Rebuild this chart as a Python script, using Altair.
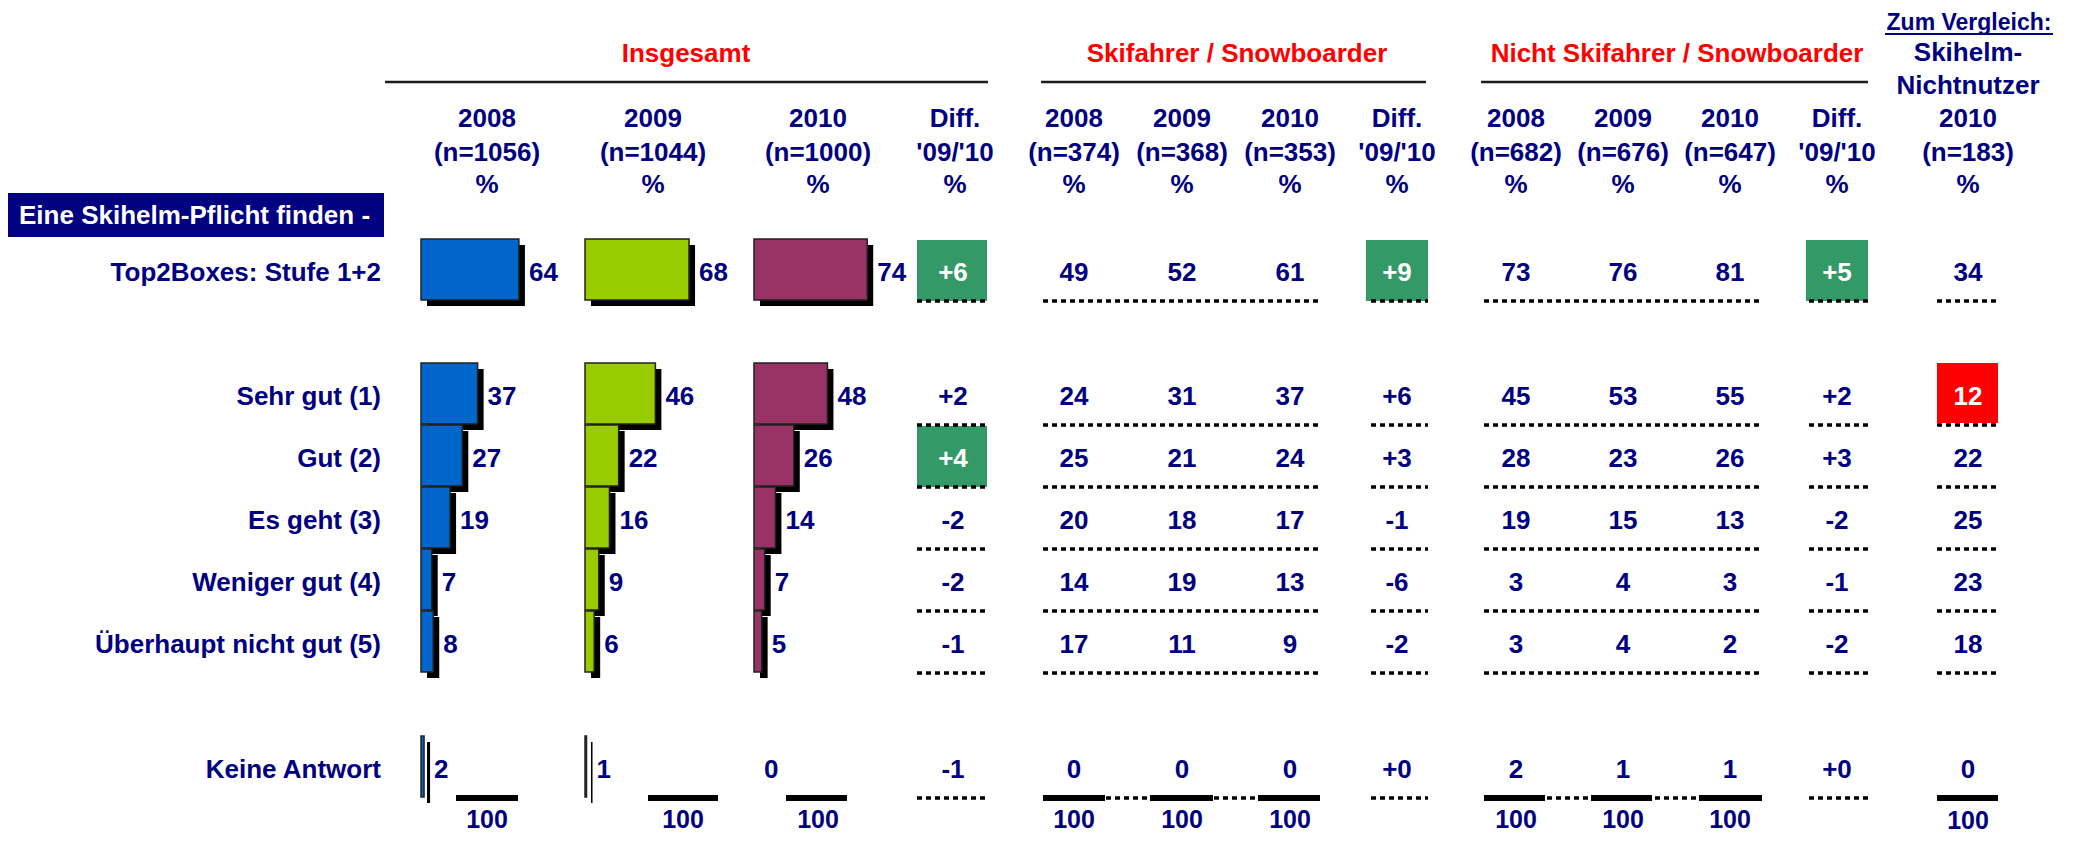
import altair as alt
import pandas as pd

# ------------------------------------------------------------------ data
rows = ["Top2Boxes: Stufe 1+2", "Sehr gut (1)", "Gut (2)", "Es geht (3)",
        "Weniger gut (4)", "Überhaupt nicht gut (5)", "Keine Antwort"]
section_label = "Eine Skihelm-Pflicht finden -"

group_titles = ["Insgesamt", "Skifahrer / Snowboarder", "Nicht Skifahrer / Snowboarder"]
years = ["2008", "2009", "2010"]
n_total = [1056, 1044, 1000]
n_ski = [374, 368, 353]
n_nonski = [682, 676, 647]
n_nonuser = 183

total_2008 = [64, 37, 27, 19, 7, 8, 2]
total_2009 = [68, 46, 22, 16, 9, 6, 1]
total_2010 = [74, 48, 26, 14, 7, 5, 0]
total_diff = [6, 2, 4, -2, -2, -1, -1]
total_diff_sig = [True, False, True, False, False, False, False]

ski_2008 = [49, 24, 25, 20, 14, 17, 0]
ski_2009 = [52, 31, 21, 18, 19, 11, 0]
ski_2010 = [61, 37, 24, 17, 13, 9, 0]
ski_diff = [9, 6, 3, -1, -6, -2, 0]
ski_diff_sig = [True, False, False, False, False, False, False]

nonski_2008 = [73, 45, 28, 19, 3, 3, 2]
nonski_2009 = [76, 53, 23, 15, 4, 4, 1]
nonski_2010 = [81, 55, 26, 13, 3, 2, 1]
nonski_diff = [5, 2, 3, -2, -1, -2, 0]
nonski_diff_sig = [True, False, False, False, False, False, False]

nonuser_2010 = [34, 12, 22, 25, 23, 18, 0]
nonuser_low = [False, True, False, False, False, False, False]

column_total = 100

# ------------------------------------------------------------------ layout (pixels of the page)
W, H = 2062, 826
FONT = "Liberation Sans"
NAVY = "#000080"
RED = "#FF0000"
GREEN_BOX = "#339966"
BAR_COLORS = ["#0066CC", "#99CC00", "#993366"]
TEXT_DY = 3

ROW_Y = [270, 394, 456, 518, 580, 642, 767]
BAR_X0 = [421, 585, 754]
BAR_LEN_100 = 153
TOT_HEAD_X = [487, 653, 818]
TOT_DIFF_X = 953
SKI_X = [1074, 1182, 1290]
SKI_DIFF_X = 1397
NON_X = [1516, 1623, 1730]
NON_DIFF_X = 1837
NU_X = 1968

X = alt.Scale(domain=[8, 8 + W], nice=False, zero=False)
Y = alt.Scale(domain=[8, 8 + H], reverse=True, nice=False, zero=False)


def fmt_diff(v):
    return ("+" if v >= 0 else "-") + str(abs(v))


def text_layer(df, color, align="center", size=26, dy=TEXT_DY):
    return alt.Chart(df).mark_text(
        font=FONT, fontWeight="bold", fontSize=size, color=color,
        align=align, baseline="middle", dy=dy
    ).encode(
        x=alt.X("x:Q", scale=X, axis=None),
        y=alt.Y("y:Q", scale=Y, axis=None),
        text="t:N",
    )


def rule_layer(df, color="black", width=3.5, dash=None):
    kw = dict(color=color, strokeWidth=width)
    if dash:
        kw["strokeDash"] = dash
    return alt.Chart(df).mark_rule(**kw).encode(
        x=alt.X("x:Q", scale=X, axis=None),
        x2="x2:Q",
        y=alt.Y("y:Q", scale=Y, axis=None),
    )


def rect_layer(df, color):
    return alt.Chart(df).mark_rect(color=color).encode(
        x=alt.X("x:Q", scale=X, axis=None), x2="x2:Q",
        y=alt.Y("y:Q", scale=Y, axis=None), y2="y2:Q",
    )


layers = []

# ---- header texts
red_t, navy_t = [], []
for title, cx in zip(group_titles, [686, 1237, 1677]):
    red_t.append({"x": cx, "y": 50, "t": title})
for xs, ns in [(TOT_HEAD_X, n_total), (SKI_X, n_ski), (NON_X, n_nonski)]:
    for cx, yr, n in zip(xs, years, ns):
        navy_t += [{"x": cx, "y": 116, "t": yr},
                   {"x": cx, "y": 150, "t": f"(n={n})"},
                   {"x": cx, "y": 182, "t": "%"}]
for cx in [955, SKI_DIFF_X, NON_DIFF_X]:
    navy_t += [{"x": cx, "y": 116, "t": "Diff."},
               {"x": cx, "y": 150, "t": "'09/'10"},
               {"x": cx, "y": 182, "t": "%"}]
navy_t += [{"x": NU_X, "y": 50, "t": "Skihelm-"},
           {"x": NU_X, "y": 83, "t": "Nichtnutzer"},
           {"x": NU_X, "y": 116, "t": "2010"},
           {"x": NU_X, "y": 150, "t": f"(n={n_nonuser})"},
           {"x": NU_X, "y": 182, "t": "%"}]

# group underline rules
layers.append(rule_layer(pd.DataFrame({"x": [385, 1041, 1481], "x2": [988, 1426, 1868],
                                       "y": [82, 82, 82]}), color="#1a1a1a", width=2.5))
# Zum Vergleich underline
layers.append(rule_layer(pd.DataFrame({"x": [1885], "x2": [2053], "y": [34]}), color=NAVY, width=2))

# section box
layers.append(rect_layer(pd.DataFrame({"x": [6], "x2": [384], "y": [193], "y2": [237]}), NAVY))

# ---- highlight boxes
green_boxes, red_boxes = [], []
for i, yc in enumerate(ROW_Y):
    if total_diff_sig[i]:
        green_boxes.append({"x": 917, "x2": 987, "y": yc - 30, "y2": yc + 31})
    if ski_diff_sig[i]:
        green_boxes.append({"x": 1366, "x2": 1428, "y": yc - 30, "y2": yc + 31})
    if nonski_diff_sig[i]:
        green_boxes.append({"x": 1806, "x2": 1868, "y": yc - 30, "y2": yc + 31})
    if nonuser_low[i]:
        red_boxes.append({"x": 1937, "x2": 1998, "y": yc - 31, "y2": yc + 29})
layers.append(rect_layer(pd.DataFrame(green_boxes), GREEN_BOX))
layers.append(rect_layer(pd.DataFrame(red_boxes), RED))

# ---- dotted separators
dots = []
spans = [(917, 987), (1043, 1321), (1371, 1428), (1484, 1762), (1809, 1868), (1937, 1998)]
for yc in ROW_Y:
    for a, b in spans:
        dots.append({"x": a, "x2": b, "y": yc + 31})
layers.append(rule_layer(pd.DataFrame(dots), width=3.5, dash=[5, 4]))

# thick total rules
thick = [(456, 518), (648, 718), (786, 847),
         (1043, 1105), (1150, 1213), (1258, 1320),
         (1484, 1545), (1591, 1652), (1699, 1762), (1937, 1998)]
layers.append(rule_layer(pd.DataFrame([{"x": a, "x2": b, "y": ROW_Y[-1] + 31} for a, b in thick]),
                         width=6))

# ---- cell values
white_t = []
for i, yc in enumerate(ROW_Y):
    for vals, xs in [((ski_2008, ski_2009, ski_2010), SKI_X), ((nonski_2008, nonski_2009, nonski_2010), NON_X)]:
        for v, cx in zip(vals, xs):
            navy_t.append({"x": cx, "y": yc, "t": str(v[i])})
    for d, sig, cx in [(total_diff, total_diff_sig, TOT_DIFF_X), (ski_diff, ski_diff_sig, SKI_DIFF_X),
                       (nonski_diff, nonski_diff_sig, NON_DIFF_X)]:
        (white_t if sig[i] else navy_t).append({"x": cx, "y": yc, "t": fmt_diff(d[i])})
    (white_t if nonuser_low[i] else navy_t).append({"x": NU_X, "y": yc, "t": str(nonuser_2010[i])})

# totals 100 (kept inside the drawing area)
totals_t = [{"x": cx, "y": 820, "t": str(column_total)} for cx in [487, 683, 818] + SKI_X + NON_X]
totals_t.append({"x": NU_X, "y": 821, "t": str(column_total)})

# ---- bars (each year column has its own value scale 0..100)
for vals, x0, col in zip([total_2008, total_2009, total_2010], BAR_X0, BAR_COLORS):
    df = pd.DataFrame({"v": vals, "yc": ROW_Y, "z": 0})
    df["y0"] = df["yc"] - 31
    df["y1"] = df["yc"] + 30
    xs = alt.Scale(domain=[0, 100], range=[x0 - 8, x0 - 8 + BAR_LEN_100], nice=False, zero=False)
    base = alt.Chart(df)
    enc = dict(x=alt.X("z:Q", scale=xs, axis=None), x2="v:Q",
               y=alt.Y("y0:Q", scale=Y, axis=None), y2="y1:Q")
    pos = base.transform_filter("datum.v > 0")
    layers.append(pos.mark_bar(color="black", xOffset=6, x2Offset=6, yOffset=6, y2Offset=6).encode(**enc))
    layers.append(pos.mark_bar(color=col, stroke="#222222", strokeWidth=1.5).encode(**enc))
    layers.append(base.mark_text(font=FONT, fontWeight="bold", fontSize=26, color=NAVY,
                                 align="left", baseline="middle", dx=10, dy=TEXT_DY).encode(
        x=alt.X("v:Q", scale=xs, axis=None), y=alt.Y("yc:Q", scale=Y, axis=None), text="v:Q"))

# ---- texts
layers.append(text_layer(pd.DataFrame(red_t), RED, dy=TEXT_DY + 1))
layers.append(text_layer(pd.DataFrame(navy_t), NAVY))
layers.append(text_layer(pd.DataFrame(totals_t), NAVY, size=25, dy=0))
layers.append(text_layer(pd.DataFrame(white_t), "white"))
layers.append(text_layer(pd.DataFrame([{"x": 1969, "y": 23, "t": "Zum Vergleich:"}]), NAVY, size=23, dy=0))
layers.append(text_layer(pd.DataFrame([{"x": 381, "y": yc, "t": r} for r, yc in zip(rows, ROW_Y)]),
                         NAVY, align="right"))
layers.append(text_layer(pd.DataFrame([{"x": 19, "y": 215, "t": section_label}]), "white",
                         align="left", dy=1))

chart = alt.layer(*layers).resolve_scale(x="independent").properties(
    width=W, height=H, padding=0, background="white",
    autosize=alt.AutoSizeParams(type="none")
).configure_view(strokeWidth=0, stroke="transparent")

chart.save("out.html", embed_options={"renderer": "svg", "actions": False})
